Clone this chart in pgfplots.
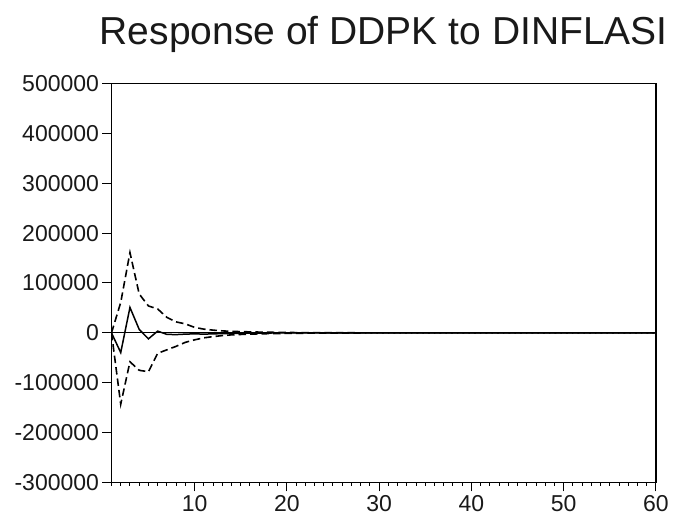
\documentclass[border=0pt]{standalone}
\usepackage{fontspec}
\setmainfont{Liberation Sans}
\usepackage{pgfplots}
\usepackage{pgfplotstable}
\pgfplotsset{compat=1.18}

% impulse response with +/- 2 s.e. bands
\pgfplotstableread{
x resp lo hi
1 0 0 0
2 -39500 -143000 61000
3 51000 -58000 161000
4 7000 -75000 78000
5 -12000 -78000 54000
6 3500 -41000 48000
7 -3000 -34000 31000
8 -3500 -27000 22000
9 -2500 -19000 18000
10 -2000 -14000 11000
11 -2500 -10000 7500
12 -2000 -7500 5500
13 -1500 -5500 4000
14 -1000 -4000 3000
15 -800 -3200 2500
16 -600 -2600 2000
17 -400 -2000 1600
18 -300 -1600 1300
19 -200 -1300 1000
20 -150 -1000 800
21 -100 -800 600
22 -80 -650 500
23 -60 -500 400
24 -50 -400 300
25 -40 -320 250
26 -30 -260 200
27 -25 -200 160
28 -20 -160 130
29 -15 -130 100
30 -10 -100 80
31 -8 -80 60
32 -6 -60 50
33 -5 -50 40
34 -4 -40 30
35 -3 -30 25
36 -2 -25 20
37 -2 -20 15
38 -1 -15 12
39 -1 -12 10
40 -1 -10 8
41 0 -8 6
42 0 -6 5
43 0 -5 4
44 0 -4 3
45 0 -3 2
46 0 -2 2
47 0 -2 1
48 0 -1 1
49 0 -1 1
50 0 -1 1
51 0 0 0
52 0 0 0
53 0 0 0
54 0 0 0
55 0 0 0
56 0 0 0
57 0 0 0
58 0 0 0
59 0 0 0
60 0 0 0
}\irf

\begin{document}
\begin{tikzpicture}
\path[use as bounding box] (-111.5pt,-35.5pt) rectangle (571.5pt,482.5pt);
\begin{axis}[
    scale only axis,
    width=544.5pt, height=399pt,
    xmin=1, xmax=60,
    ymin=-300000, ymax=500000,
    xtick={10,20,...,60},
    minor xtick={1,...,60},
    ytick={-300000,-200000,...,500000},
    scaled y ticks=false,
    /pgf/number format/.cd, fixed, 1000 sep={}, assume math mode=true,
    /pgfplots/.cd,
    tick pos=left,
    tick align=outside,
    major tick length=9pt,
    minor tick length=3.5pt,
    tick style={black, line width=1pt},
    axis line style={black, line width=1.2pt},
    tick label style={font=\fontsize{23}{24}\selectfont, text=black!90},
    title={Response of DDPK to DINFLASI},
    title style={font=\fontsize{39}{40}\selectfont, text=black!90,
        at={(0.5,1)}, anchor=base, yshift=33pt},
]
\addplot[black, line width=1pt] coordinates {(1,0) (60,0)};
\addplot[black, line width=1.6pt, dash pattern=on 7.5pt off 4pt] table[x=x, y=hi] {\irf};
\addplot[black, line width=1.6pt, dash pattern=on 7.5pt off 4pt] table[x=x, y=lo] {\irf};
\addplot[black, line width=1.5pt] table[x=x, y=resp] {\irf};
\end{axis}
\end{tikzpicture}
\end{document}
